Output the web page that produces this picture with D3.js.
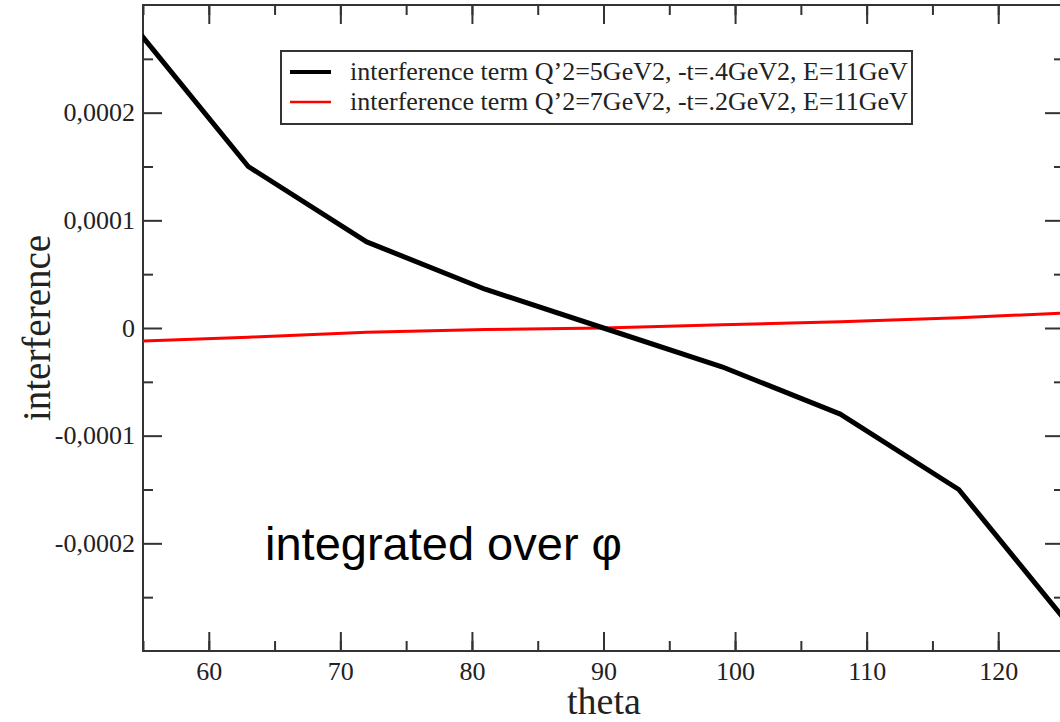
<!DOCTYPE html>
<html>
<head>
  <meta charset="UTF-8">
  <title>interference vs theta</title>
  <script src="https://cdn.jsdelivr.net/npm/d3@7"></script>
  <style>
    body { margin:0; background:#fff; overflow:hidden; }
    svg { display:block; }
    .tick text { font-family:"Liberation Serif", "Times New Roman", serif; font-size:26px; fill:#222; }
    .axis path, .axis line { stroke:#333; stroke-width:2px; }
    .serif { font-family:"Liberation Serif", "Times New Roman", serif; fill:#222; }
  </style>
</head>
<body>
  <svg id="chart" width="1060" height="722"></svg>
  <script>
  // data
  const theta = [54, 63, 72, 81, 90, 99, 108, 117, 126];
  const interfA = [0.000285, 0.00015, 0.00008, 0.000036, 0, -0.000036, -0.00008, -0.00015, -0.000285];
  const interfB = [-0.0000125, -0.0000085, -0.000004, -0.0000015, 0, 0.000003, 0.0000058, 0.0000095, 0.0000145];
  const xTicks = [60, 70, 80, 90, 100, 110, 120];
  const yTicks = [-0.0002, -0.0001, 0, 0.0001, 0.0002];
  const yTickLabels = ["-0,0002", "-0,0001", "0", "0,0001", "0,0002"];
  const legendLabels = [
    "interference term Q\u20192=5GeV2, -t=.4GeV2, E=11GeV",
    "interference term Q\u20192=7GeV2, -t=.2GeV2, E=11GeV"
  ];

  const pL = 143, pT = 5, pR = 1064, pB = 651;
  const svg = d3.select("#chart");

  const x = d3.scaleLinear().domain([55, 125]).range([pL, pR]);
  const y = d3.scaleLinear().domain([-0.0003, 0.0003]).range([pB, pT]);

  const xMinor = d3.range(55, 126, 5);
  const yMinor = d3.range(-0.00025, 0.0003, 0.0001);

  // clip
  svg.append("clipPath").attr("id", "clip")
    .append("rect").attr("x", pL).attr("y", pT)
    .attr("width", pR - pL).attr("height", pB - pT);

  // axes: major + minor ticks, inward, on all four sides
  function addAxis(gen, tr) {
    const g = svg.append("g").attr("class", "axis").attr("transform", tr).call(gen);
    g.select(".domain").remove();
    return g;
  }
  addAxis(d3.axisBottom(x).tickValues(xTicks).tickSize(-19).tickPadding(11).tickFormat(d3.format("d")), `translate(0,${pB})`);
  addAxis(d3.axisBottom(x).tickValues(xMinor).tickSize(-10).tickFormat(""), `translate(0,${pB})`);
  addAxis(d3.axisTop(x).tickValues(xTicks).tickSize(-19).tickFormat(""), `translate(0,${pT})`);
  addAxis(d3.axisTop(x).tickValues(xMinor).tickSize(-10).tickFormat(""), `translate(0,${pT})`);
  addAxis(d3.axisLeft(y).tickValues(yTicks).tickSize(-19).tickPadding(8).tickFormat((d, i) => yTickLabels[i]), `translate(${pL},0)`);
  addAxis(d3.axisLeft(y).tickValues(yMinor).tickSize(-10).tickFormat(""), `translate(${pL},0)`);
  addAxis(d3.axisRight(y).tickValues(yTicks).tickSize(-19).tickFormat(""), `translate(${pR},0)`);
  addAxis(d3.axisRight(y).tickValues(yMinor).tickSize(-10).tickFormat(""), `translate(${pR},0)`);

  svg.append("rect")
    .attr("x", pL).attr("y", pT)
    .attr("width", pR - pL).attr("height", pB - pT)
    .attr("fill", "none").attr("stroke", "#333").attr("stroke-width", 2);

  // curves
  const line = d3.line().x(d => x(d[0])).y(d => y(d[1]));
  const plot = svg.append("g").attr("clip-path", "url(#clip)");
  plot.append("path")
    .datum(d3.zip(theta, interfB))
    .attr("d", line).attr("fill", "none")
    .attr("stroke", "#ff0000").attr("stroke-width", 3);
  plot.append("path")
    .datum(d3.zip(theta, interfA))
    .attr("d", line).attr("fill", "none")
    .attr("stroke", "#000").attr("stroke-width", 5)
    .attr("stroke-linejoin", "round");

  // legend
  const lg = svg.append("g");
  lg.append("rect")
    .attr("x", 281).attr("y", 51).attr("width", 631).attr("height", 73)
    .attr("fill", "#fff").attr("stroke", "#333").attr("stroke-width", 2);
  const colors = ["#000", "#ff0000"], widths = [4, 2.5];
  legendLabels.forEach((t, i) => {
    const yy = 72 + i * 30;
    lg.append("line").attr("x1", 290).attr("x2", 331).attr("y1", yy).attr("y2", yy)
      .attr("stroke", colors[i]).attr("stroke-width", widths[i]);
    lg.append("text").attr("class", "serif")
      .attr("x", 350).attr("y", yy + 8)
      .style("font-size", "26px")
      .text(t);
  });

  // axis titles
  svg.append("text").attr("class", "serif")
    .attr("x", 604).attr("y", 714).attr("text-anchor", "middle")
    .style("font-size", "38px")
    .text("theta");
  svg.append("text").attr("class", "serif")
    .attr("transform", `translate(50,${(pT + pB) / 2}) rotate(-90)`)
    .attr("text-anchor", "middle")
    .style("font-size", "39px")
    .text("interference");

  // annotation
  svg.append("text")
    .attr("x", 265).attr("y", 560)
    .style("font-family", "'Liberation Sans', Arial, sans-serif")
    .style("font-size", "47px").attr("fill", "#000")
    .text("integrated over \u03c6");
  </script>
</body>
</html>
